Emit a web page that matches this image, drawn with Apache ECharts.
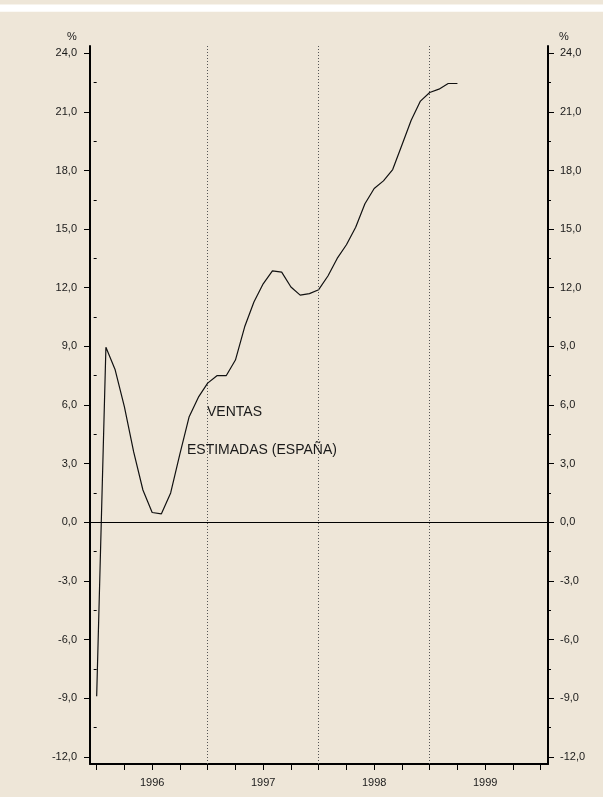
<!DOCTYPE html>
<html>
<head>
<meta charset="utf-8">
<script src="https://cdn.jsdelivr.net/npm/echarts@6/dist/echarts.min.js"></script>
<style>
html,body{margin:0;padding:0;background:#EEE6D8;}
#c{width:603px;height:797px;}
</style>
</head>
<body>
<div id="c"></div>
<script>
// Monthly values from Jan 1996 (month index 0)
const values = [-8.9, 8.95, 7.8, 5.9, 3.6, 1.65, 0.5, 0.43, 1.5, 3.5, 5.4, 6.4,
  7.12, 7.5, 7.5, 8.3, 10.0, 11.27, 12.2, 12.86, 12.8, 12.04, 11.62, 11.7,
  11.9, 12.6, 13.5, 14.2, 15.1, 16.3, 17.08, 17.47, 18.05, 19.3, 20.57, 21.55,
  21.99, 22.16, 22.45, 22.45];
const years = ["1996", "1997", "1998", "1999"];
const yearMid = [6, 18, 30, 42];           // label positions (months)
const xTicks = [0,3,6,9,12,15,18,21,24,27,30,33,36,39,42,45,48];
const yearBounds = [12, 24, 36];
const yTickValues = [-12,-9,-6,-3,0,3,6,9,12,15,18,21,24];
const yTickLabels = ["-12,0","-9,0","-6,0","-3,0","0,0","3,0","6,0","9,0","12,0","15,0","18,0","21,0","24,0"];
const yMinorValues = [-10.5,-7.5,-4.5,-1.5,1.5,4.5,7.5,10.5,13.5,16.5,19.5,22.5];
const seriesName = ["VENTAS", "ESTIMADAS (ESPAÑA)"];
const unitLabel = "%";

const FONT = '"Liberation Sans", Arial, sans-serif';
const TXT = '#1a1a1a';
const YMIN = -12.37, YMAX = 24.37;

function yAxisMajor(pos) {
  return {
    type: 'value', position: pos, min: YMIN, max: YMAX,
    axisLine: {show: true, onZero: false, lineStyle: {color: '#000', width: 2}},
    axisTick: {show: true, customValues: yTickValues, length: 6, lineStyle: {color: '#000', width: 1}},
    axisLabel: {show: true, customValues: yTickValues, margin: pos === 'left' ? 13 : 12,
      fontSize: 11, fontFamily: FONT, color: TXT,
      formatter: v => { const i = yTickValues.indexOf(Math.round(v)); return i >= 0 ? yTickLabels[i] : ''; }},
    splitLine: {show: false}
  };
}
function yAxisMinor(pos) {
  return {
    type: 'value', position: pos, min: YMIN, max: YMAX,
    axisLine: {show: false},
    axisTick: {show: true, customValues: yMinorValues, length: 3, lineStyle: {color: '#000', width: 1}},
    axisLabel: {show: false},
    splitLine: {show: false}
  };
}

const chart = echarts.init(document.getElementById('c'), null, {renderer: 'canvas'});
chart.setOption({
  backgroundColor: '#EEE6D8',
  animation: false,
  grid: {left: 90, top: 46, width: 458, height: 718, containLabel: false},
  xAxis: {
    type: 'value', min: -0.72, max: 48.79,
    axisLine: {show: true, onZero: false, lineStyle: {color: '#000', width: 2}},
    axisTick: {show: true, customValues: xTicks, length: 6, lineStyle: {color: '#000', width: 1}},
    axisLabel: {show: true, customValues: yearMid, margin: 13, fontSize: 11, fontFamily: FONT, color: TXT,
      formatter: v => { const i = yearMid.indexOf(Math.round(v)); return i >= 0 ? years[i] : ''; }},
    splitLine: {show: false}
  },
  yAxis: [yAxisMajor('left'), yAxisMinor('left'), yAxisMajor('right'), yAxisMinor('right')],
  graphic: [
    {type: 'rect', shape: {x: 0, y: 4.5, width: 603, height: 7.3}, style: {fill: '#FFFFFF'}, silent: true},
    {type: 'text', x: 72, y: 37, style: {text: unitLabel, fontSize: 11, fontFamily: FONT, fill: TXT, textAlign: 'center', textVerticalAlign: 'middle'}},
    {type: 'text', x: 564, y: 37, style: {text: unitLabel, fontSize: 11, fontFamily: FONT, fill: TXT, textAlign: 'center', textVerticalAlign: 'middle'}},
    {type: 'text', x: 207, y: 412, style: {text: seriesName[0], fontSize: 14, fontFamily: FONT, fill: TXT, textAlign: 'left', textVerticalAlign: 'middle'}},
    {type: 'text', x: 187, y: 450, style: {text: seriesName[1], fontSize: 14, fontFamily: FONT, fill: TXT, textAlign: 'left', textVerticalAlign: 'middle'}}
  ],
  series: [{
    type: 'line',
    xAxisIndex: 0, yAxisIndex: 0,
    data: values.map((v, i) => [i, v]),
    showSymbol: false, symbol: 'none',
    lineStyle: {color: '#111', width: 1.2},
    markLine: {
      silent: true, symbol: ['none', 'none'], label: {show: false},
      data: [
        ...yearBounds.map(b => ({xAxis: b, lineStyle: {type: [1, 2], color: '#555', width: 1}})),
        {yAxis: 0, lineStyle: {type: 'solid', color: '#000', width: 1}}
      ]
    }
  }]
});
</script>
</body>
</html>
